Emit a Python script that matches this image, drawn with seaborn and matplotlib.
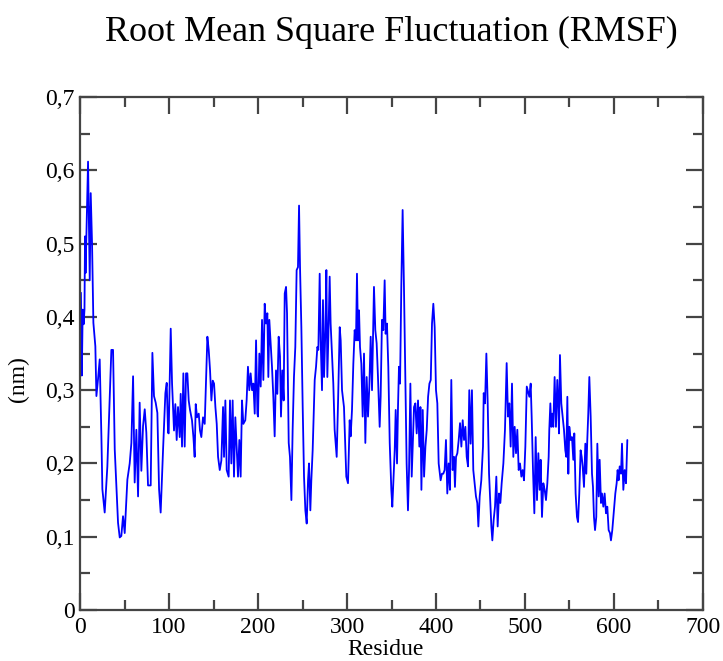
import matplotlib
matplotlib.use("Agg")
import matplotlib.pyplot as plt
from matplotlib.ticker import MultipleLocator, FuncFormatter
import seaborn as sns
import pandas as pd

residue = [
    1, 2, 3, 4, 5, 5.6, 6.2, 7.1, 9.0, 10.9, 12.0, 13.5, 15.0, 17.2, 18.4, 20.2, 22.1,
    24.0, 25.1, 27.7, 30.7, 33.3, 35.2, 37.1, 39.0, 42.7, 44.6, 46.4, 48.3, 50.2,
    53.2, 55.8, 57.7, 59.6, 61.4, 63.3, 65.2, 67.0, 68.9, 70.8, 72.7, 74.5, 76.4,
    79.4, 81.3, 83.1, 85.0, 86.9, 88.8, 90.6, 93.3, 95.9, 97.4, 98.9,
    99.6, 101.9, 103.4, 105.6, 107.1, 108.6, 110.1, 112.0, 113.1, 114.6, 116.1,
    117.6, 119.1, 120.6, 122.1, 123.6, 125.8, 127.4, 128.8, 130.0, 131.5, 133.4,
    134.8, 136.3, 138.2, 140.1, 141.6, 143.1, 144.6, 146.1, 147.6, 149.1, 150.6,
    152.1, 153.6, 155.1, 157.0, 158.8, 160.7, 161.8, 163.3, 164.8, 167.0, 168.5,
    170.0, 171.5, 173.0, 174.5, 176.0, 177.5, 179.0, 180.5, 182.0, 183.5, 185.7,
    187.2, 188.7, 190.2, 191.7, 193.3, 194.8, 196.3, 197.8, 199.3,
    200.0, 201.5, 203.0, 204.5, 206.0, 207.5, 209.0, 210.5, 211.6, 212.7, 214.2,
    215.7, 217.2, 218.7, 220.2, 221.7, 223.2, 224.7, 225.8, 227.3, 228.8, 230.0,
    231.5, 232.6, 234.5, 235.9, 237.5, 238.9, 240.4, 241.9, 243.4, 244.9, 246.1,
    247.2, 248.7, 250.2, 251.7, 253.2, 254.7, 256.2, 257.3, 258.8, 259.9, 261.4,
    263.7, 265.2, 266.7, 267.8, 269.3, 270.4, 271.9, 273.0, 274.2, 275.7, 276.8,
    277.9, 279.4, 280.5, 281.6, 283.1, 284.6, 286.1, 288.4, 289.9, 291.8, 292.9,
    294.4, 296.6, 298.1, 299.2, 301.1,
    303.0, 304.1, 305.6, 307.1, 308.6, 310.1, 311.2, 312.4, 313.5, 314.6, 316.1,
    317.6, 319.1, 320.6, 322.1, 323.6, 325.1, 326.6, 328.1, 329.2, 330.3, 331.8,
    333.3, 334.8, 336.7, 337.8, 339.3, 340.8, 342.3, 343.4, 344.9, 346.4, 348.0,
    349.8, 350.9, 352.4, 353.6, 354.7, 356.2, 357.3, 358.4, 359.6, 361.0, 362.5,
    364.0, 365.5, 367.0, 368.5, 369.7, 371.2, 372.7, 374.2, 375.3, 376.8, 378.3,
    379.8, 381.3, 382.5, 383.6, 385.1, 386.6, 388.1, 389.6, 391.1, 392.6, 394.1,
    395.5, 397.0, 398.5, 400.0, 401.5, 403.0,
    405.2, 406.7, 408.2, 409.7, 411.2, 412.7, 414.2, 415.7, 417.2, 418.7, 420.2,
    421.3, 422.5, 424.0, 425.5, 427.0, 428.5, 430.0, 431.5, 433.0, 434.5, 436.0,
    437.4, 438.9, 440.4, 441.9, 443.4, 444.9, 446.4, 447.6, 449.1, 450.9, 452.8,
    453.6, 455.1, 456.6, 458.1, 459.6, 461.0, 462.2, 463.3, 464.8, 466.3, 467.8,
    469.3, 470.8, 472.3, 473.8, 475.7, 477.5, 479.4, 480.9, 482.4, 483.9, 485.4,
    486.9, 488.4, 489.9, 491.4, 492.9, 494.4, 495.9, 497.4, 498.9, 500.4, 502.0,
    504.9, 506.4, 507.5, 509.0, 510.5, 512.0, 513.5, 515.0, 516.5, 517.6, 519.1,
    520.6, 522.1, 523.6, 525.1, 526.6, 527.3, 528.5, 529.6, 530.7, 531.8, 533.3,
    534.8, 536.3, 537.5, 538.2, 539.3, 540.8, 542.3, 543.8, 545.3, 546.4, 547.6,
    548.7, 549.8, 551.3, 552.8, 554.3, 555.4, 556.9, 558.4, 559.6, 561.0, 562.5,
    563.7, 564.8, 566.3, 567.8, 568.9, 570.0, 571.1, 572.3, 573.8, 575.3, 576.4,
    577.5, 578.7, 580.1, 581.3, 582.8, 583.9, 585.4, 586.5, 588.0, 589.5, 591.0,
    592.5, 594.0, 595.5, 596.6, 598.1, 600.0, 601.5, 603.0, 604.1, 605.2, 606.4,
    607.9, 609.0, 610.5, 612.0, 613.5, 615.0,
]

rmsf_nm = [
    0.433, 0.32, 0.41, 0.39, 0.41, 0.51, 0.46, 0.51, 0.612, 0.45, 0.569, 0.50, 0.392,
    0.36, 0.292, 0.315, 0.342, 0.237, 0.165, 0.133, 0.196, 0.287, 0.355, 0.355,
    0.219, 0.119, 0.099, 0.101, 0.128, 0.105, 0.178, 0.2, 0.228, 0.319, 0.174,
    0.246, 0.155, 0.283, 0.19, 0.251, 0.274, 0.242, 0.17, 0.17, 0.351, 0.292,
    0.283, 0.269, 0.165, 0.133, 0.219, 0.296, 0.31, 0.242,
    0.241, 0.384, 0.309, 0.245, 0.281, 0.232, 0.277, 0.236, 0.295, 0.223, 0.323,
    0.223, 0.323, 0.323, 0.286, 0.273, 0.259, 0.236, 0.209, 0.281, 0.263, 0.268,
    0.245, 0.236, 0.263, 0.254, 0.313, 0.373, 0.355, 0.327, 0.286, 0.313, 0.309,
    0.277, 0.254, 0.209, 0.191, 0.204, 0.277, 0.209, 0.286, 0.191, 0.182, 0.286,
    0.2, 0.286, 0.182, 0.263, 0.223, 0.182, 0.232, 0.182, 0.286, 0.254, 0.259,
    0.286, 0.332, 0.3, 0.323, 0.3, 0.309, 0.268, 0.368, 0.268,
    0.264, 0.35, 0.305, 0.396, 0.314, 0.418, 0.391, 0.405, 0.318, 0.396, 0.364,
    0.332, 0.291, 0.237, 0.327, 0.295, 0.373, 0.346, 0.264, 0.327, 0.286, 0.432,
    0.441, 0.405, 0.228, 0.209, 0.15, 0.246, 0.318, 0.359, 0.464, 0.468, 0.552,
    0.468, 0.386, 0.277, 0.182, 0.136, 0.118, 0.177, 0.2, 0.136, 0.177, 0.218,
    0.314, 0.332, 0.359, 0.355, 0.459, 0.368, 0.3, 0.423, 0.318, 0.382, 0.464,
    0.318, 0.391, 0.455, 0.391, 0.35, 0.309, 0.246, 0.209, 0.282, 0.386, 0.368,
    0.3, 0.277, 0.223, 0.182, 0.173,
    0.259, 0.237, 0.273, 0.336, 0.382, 0.368, 0.459, 0.368, 0.409, 0.359, 0.336,
    0.264, 0.35, 0.228, 0.318, 0.264, 0.305, 0.373, 0.3, 0.368, 0.441, 0.382,
    0.364, 0.318, 0.25, 0.291, 0.396, 0.382, 0.45, 0.377, 0.391, 0.332, 0.228,
    0.164, 0.141, 0.182, 0.218, 0.273, 0.2, 0.277, 0.332, 0.309, 0.441, 0.546,
    0.441, 0.318, 0.2, 0.136, 0.191, 0.309, 0.182, 0.237, 0.277, 0.282, 0.241,
    0.286, 0.223, 0.277, 0.164, 0.273, 0.182, 0.223, 0.246, 0.291, 0.309, 0.314,
    0.391, 0.418, 0.386, 0.3, 0.282, 0.2,
    0.177, 0.186, 0.186, 0.191, 0.232, 0.159, 0.2, 0.164, 0.314, 0.191, 0.209,
    0.168, 0.209, 0.214, 0.232, 0.255, 0.223, 0.259, 0.232, 0.25, 0.209, 0.196,
    0.3, 0.227, 0.3, 0.191, 0.173, 0.155, 0.146, 0.114, 0.155, 0.177, 0.223,
    0.296, 0.282, 0.35, 0.282, 0.186, 0.146, 0.114, 0.095, 0.123, 0.141, 0.182,
    0.114, 0.159, 0.146, 0.173, 0.2, 0.246, 0.337, 0.264, 0.282, 0.223, 0.309,
    0.209, 0.25, 0.214, 0.246, 0.191, 0.2, 0.182, 0.191, 0.177, 0.223, 0.305,
    0.291, 0.309, 0.264, 0.191, 0.132, 0.236, 0.15, 0.214, 0.164, 0.205, 0.127,
    0.173, 0.164, 0.15, 0.173, 0.209, 0.246, 0.282, 0.25, 0.268, 0.25, 0.318,
    0.25, 0.314, 0.277, 0.241, 0.348, 0.282, 0.264, 0.246, 0.218, 0.209, 0.291,
    0.186, 0.25, 0.232, 0.236, 0.205, 0.241, 0.159, 0.127, 0.12, 0.159, 0.218,
    0.209, 0.196, 0.168, 0.227, 0.186, 0.232, 0.268, 0.318, 0.264, 0.186, 0.168,
    0.127, 0.109, 0.127, 0.227, 0.155, 0.205, 0.146, 0.159, 0.141, 0.159, 0.132,
    0.141, 0.109, 0.105, 0.095, 0.109, 0.136, 0.159, 0.173, 0.191, 0.177, 0.196,
    0.186, 0.227, 0.164, 0.191, 0.173, 0.232,
]

title = "Root Mean Square Fluctuation (RMSF)"
xlabel = "Residue"
ylabel = "(nm)"

sns.set_style("ticks")
plt.rcParams["font.family"] = ["Liberation Serif", "DejaVu Serif"]
plt.rcParams["text.color"] = "black"
plt.rcParams["axes.labelcolor"] = "black"

df = pd.DataFrame({"Residue": residue, "RMSF": rmsf_nm})

fig = plt.figure(figsize=(7.23, 6.61), dpi=100)
ax = fig.add_axes([0.1107, 0.0772, 0.8616, 0.7758])

sns.lineplot(data=df, x="Residue", y="RMSF", ax=ax, color="#0000ff",
             linewidth=1.3, sort=False, estimator=None)

ax.set_xlim(0, 700)
ax.set_ylim(0, 0.7)
ax.xaxis.set_major_locator(MultipleLocator(100))
ax.xaxis.set_minor_locator(MultipleLocator(50))
ax.yaxis.set_major_locator(MultipleLocator(0.1))
ax.yaxis.set_minor_locator(MultipleLocator(0.05))

def comma_fmt(v, pos):
    if abs(v) < 1e-9:
        return "0"
    return f"{v:.1f}".replace(".", ",")

ax.yaxis.set_major_formatter(FuncFormatter(comma_fmt))

spine_col = "#444444"
for s in ax.spines.values():
    s.set_visible(True)
    s.set_color(spine_col)
    s.set_linewidth(1.6)

ax.tick_params(which="both", direction="in", top=True, right=True,
               color=spine_col, width=1.6, labelsize=17, labelcolor="black")
ax.tick_params(which="major", length=12)
ax.tick_params(which="minor", length=7)
ax.tick_params(axis="x", which="major", pad=5)
ax.tick_params(axis="y", which="major", pad=4)

ax.set_xlabel(xlabel, fontsize=17, color="black")
ax.xaxis.set_label_coords(0.49, -0.057)
ax.set_ylabel(ylabel, fontsize=17, color="black")
ax.yaxis.set_label_coords(-0.082, 0.45)

fig.text(0.542, 0.951, title, ha="center", va="center", fontsize=26, color="black")

fig.savefig("out.png", dpi=100, facecolor="white")
